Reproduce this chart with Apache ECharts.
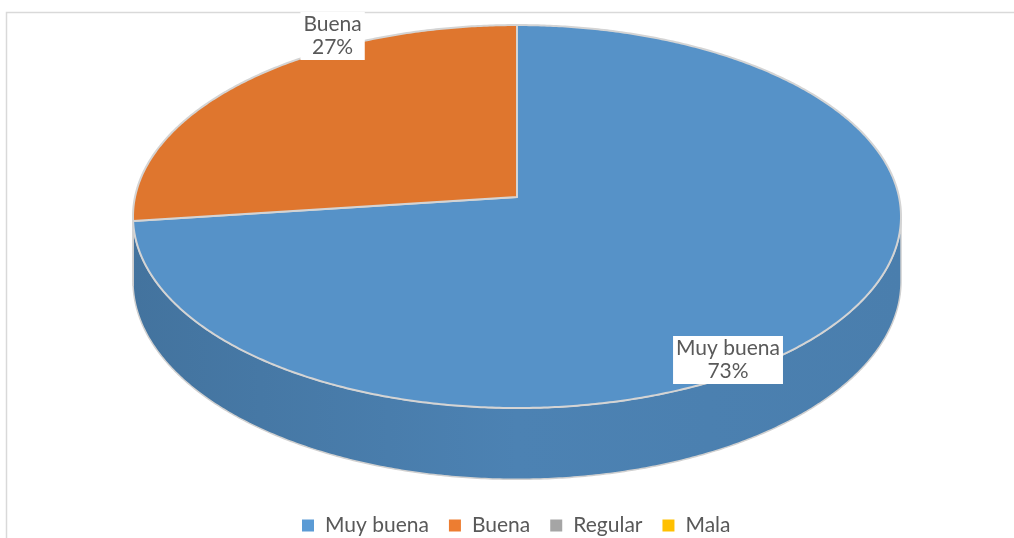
<!DOCTYPE html>
<html>
<head>
<meta charset="utf-8">
<script src="https://cdn.jsdelivr.net/npm/echarts@6/dist/echarts.min.js"></script>
<style>
  html, body { margin: 0; background: #fff; }
  #chart { width: 1014px; height: 538px; }
</style>
</head>
<body>
<div id="chart"></div>
<script>
// 数据
const categories = ['Muy buena', 'Buena', 'Regular', 'Mala'];
const values = [73, 27, 0, 0];
const percentLabels = ['73%', '27%', '0%', '0%'];
const colors = ['#5B9BD5', '#ED7D31', '#A5A5A5', '#FFC000'];

// 倾斜圆盘的几何参数（像素）
const CX = 517, CY = 197, RX = 382, RY = 189.5, DEPTH = 64, PERSP = 0.102;
// 标签锚点：角度（自顶部顺时针）与半径比例
const labelAnchors = [[147.3, 0.94], [330.4, 1.07], null, null];
const FONT = '21px Lato, "Liberation Sans", sans-serif';

const total = values.reduce((a, b) => a + b, 0);
const starts = [];
const ends = [];
values.reduce((acc, v, i) => {
  starts[i] = acc / total * 360;
  ends[i] = (acc + v) / total * 360;
  return acc + v;
}, 0);

// 可见侧面的轮廓角度
const SIL = Math.acos(-PERSP) * 180 / Math.PI;
const SIL0 = SIL, SIL1 = 360 - SIL;

function proj(deg, r, down) {
  const t = deg * Math.PI / 180;
  const X = r * Math.sin(t), Z = -r * Math.cos(t);
  const w = 1 - PERSP * Z;
  return [CX + RX * X / w, CY + (RY * Z + DEPTH * down) / w];
}

function arc(a0, a1, down) {
  const pts = [];
  const n = Math.max(2, Math.ceil((a1 - a0) / 0.5));
  for (let k = 0; k <= n; k++) pts.push(proj(a0 + (a1 - a0) * k / n, 1, down));
  return pts;
}

function shade(hex, f) {
  const n = parseInt(hex.slice(1), 16);
  const r = Math.round(((n >> 16) & 255) * f);
  const g = Math.round(((n >> 8) & 255) * f);
  const b = Math.round((n & 255) * f);
  return 'rgb(' + r + ',' + g + ',' + b + ')';
}

function renderSlice(i, a0, a1) {
  const children = [];
  if (a1 - a0 <= 0) return { type: 'group', children };
  const s0 = Math.max(a0, SIL0), s1 = Math.min(a1, SIL1);
  if (s1 > s0) {
    children.push({
      type: 'polygon',
      z2: 1,
      shape: { points: arc(s0, s1, 0).concat(arc(s0, s1, 1).reverse()) },
      style: {
        fill: new echarts.graphic.LinearGradient(0, 0, 1, 0, [
          { offset: 0, color: shade(colors[i], 0.74) },
          { offset: 0.5, color: shade(colors[i], 0.84) },
          { offset: 1, color: shade(colors[i], 0.81) }
        ]),
        stroke: '#d0d0d0',
        lineWidth: 1.5
      }
    });
  }
  children.push({
    type: 'polygon',
    z2: 5,
    shape: { points: [proj(0, 0, 0)].concat(arc(a0, a1, 0)) },
    style: { fill: shade(colors[i], 0.94), stroke: '#d4d4d4', lineWidth: 2, lineJoin: 'round' }
  });
  const anchor = labelAnchors[i];
  if (anchor) {
    const p = proj(anchor[0], anchor[1], 0);
    children.push({
      type: 'text',
      z2: 10,
      x: p[0],
      y: p[1],
      style: {
        text: categories[i] + '\n' + percentLabels[i],
        font: FONT,
        fill: '#595959',
        align: 'center',
        verticalAlign: 'middle',
        lineHeight: 23,
        backgroundColor: '#ffffff',
        padding: [1, 3, 1, 3]
      }
    });
  }
  return { type: 'group', children };
}

const chart = echarts.init(document.getElementById('chart'));
chart.setOption({
  animation: false,
  color: colors,
  graphic: [{
    type: 'rect',
    silent: true,
    shape: { x: 6.5, y: 12.5, width: 1100, height: 600 },
    style: { fill: 'none', stroke: '#d9d9d9', lineWidth: 1.5 }
  }],
  legend: {
    data: categories,
    left: 297,
    top: 510,
    icon: 'rect',
    itemWidth: 12,
    itemHeight: 12,
    itemGap: 20,
    textStyle: { fontFamily: 'Lato, "Liberation Sans", sans-serif', fontSize: 21, color: '#595959', padding: [0, 0, 0, 6] }
  },
  series: categories.map((name, i) => ({
    name,
    type: 'custom',
    coordinateSystem: 'none',
    itemStyle: { color: colors[i] },
    data: [[starts[i], ends[i], values[i]]],
    renderItem: (params, api) => renderSlice(i, api.value(0), api.value(1))
  }))
});
</script>
</body>
</html>
